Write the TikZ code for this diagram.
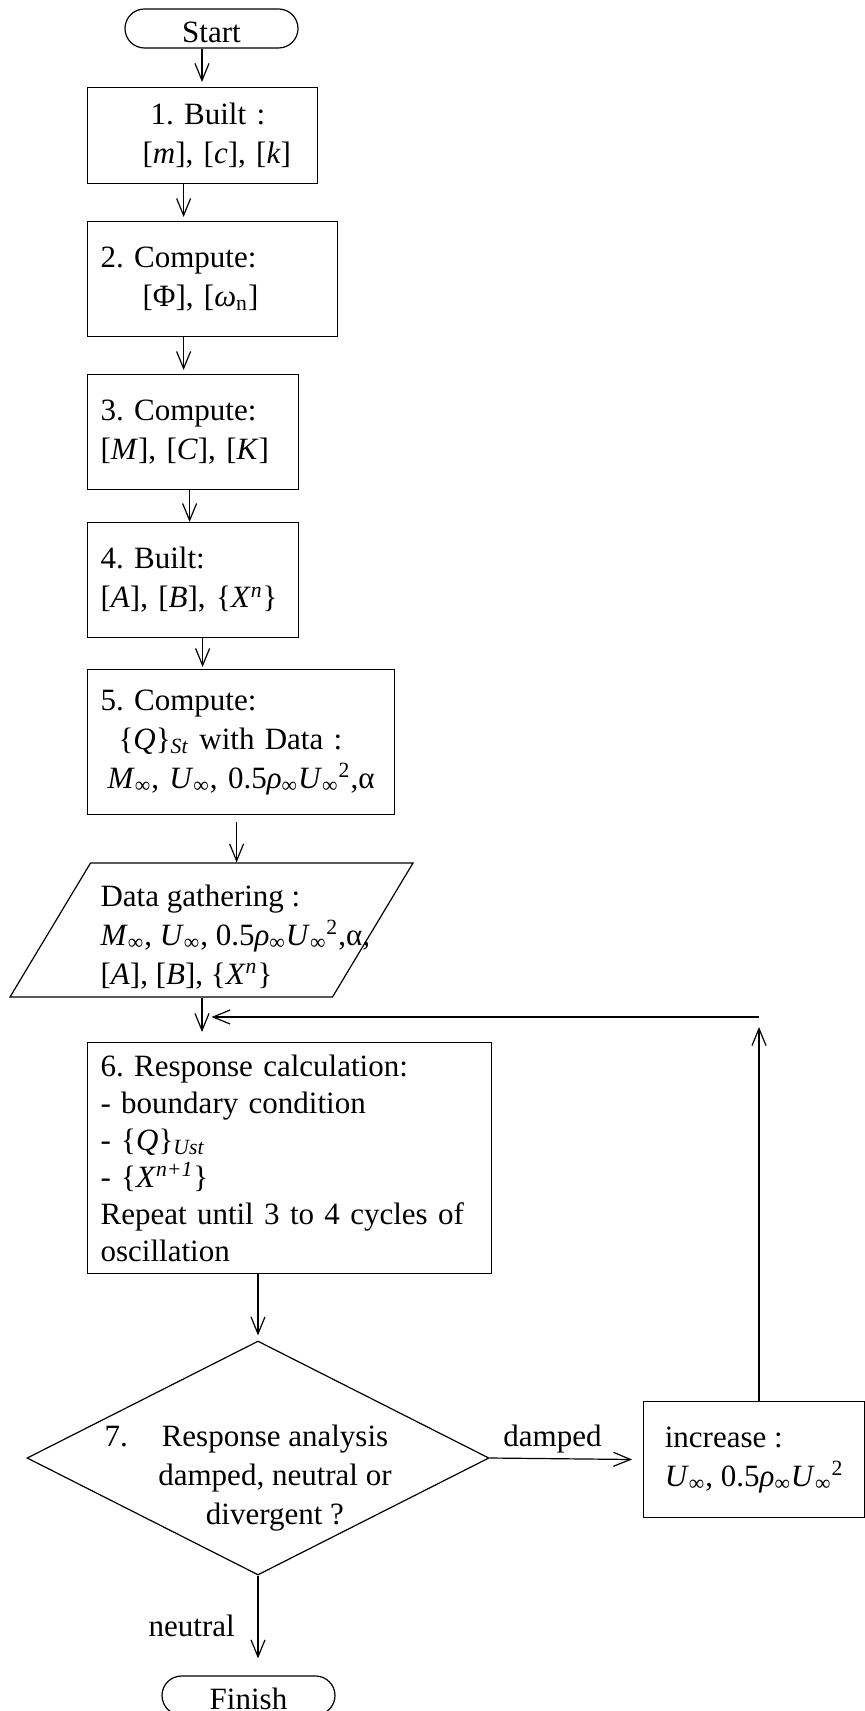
\documentclass[tikz,border=0pt]{standalone}
\usepackage{fontspec}
\setmainfont{Liberation Serif}
\usetikzlibrary{arrows.meta,shapes.geometric,shapes.misc}
\newcommand{\sinf}{\textsubscript{∞}}
\newcommand{\Uinf}{\textit{U}\sinf}
\frenchspacing

\begin{document}
\begin{tikzpicture}[->,>={Straight Barb[length=8.5pt,width=7pt]},x=0.5pt,y=-0.5pt,line width=0.6pt,
                    font=\fontsize{15.5}{19.5}\selectfont]
                \tikzstyle{box}=[draw,rectangle,anchor=north west,align=left,inner xsep=6.5pt,inner ysep=0pt]
                \tikzstyle{term}=[draw,rounded rectangle,minimum width=86.5pt,minimum height=19.5pt,inner sep=0pt,text height=14pt,text depth=0pt]
                \useasboundingbox (0,0) rectangle (865,1711);

                \node[term]     (start)     at (211.5,28.5)  {Start};
                \node[box,text width=102pt,minimum height=48pt]      (b1) at (87,87)
                    {\hspace*{25pt}1. Built :\\\hspace*{21pt}[\textit{m}], [\textit{c}], [\textit{k}]};
                \node[box,text width=112pt,minimum height=57.5pt]    (b2) at (87,221)
                    {2. Compute:\\\hspace*{21pt}[Φ], [\textit{ω}\textsubscript{n}]};
                \node[box,text width=92.5pt,minimum height=57.5pt]   (b3) at (87,374)
                    {3. Compute:\\{}[\textit{M}], [\textit{C}], [\textit{K}]};
                \node[box,text width=92.5pt,minimum height=57.5pt]   (b4) at (87,522)
                    {4. Built:\\{}[\textit{A}], [\textit{B}], \{\textit{X}\textsuperscript{\textit{n}}\}};
                \node[box,text width=140.5pt,minimum height=72.5pt]  (b5) at (87,669)
                    {5. Compute:\\\hspace*{9pt}\mbox{\{\textit{Q}\}\textsubscript{\textit{St}} with Data :}\\\hspace*{3.5pt}\mbox{\textit{M}\sinf, \Uinf, 0.5\textit{ρ}\sinf\Uinf\textsuperscript{2},α}};
                \node[draw,trapezium,trapezium left angle=59,trapezium right angle=121,trapezium stretches body,
                      minimum width=201.5pt,text height=67pt,text depth=0pt,inner sep=0pt] (pg) at (211.5,930) {};
                \node[anchor=west,align=left,inner sep=0pt] (pgtext) at (100,937)
                    {Data gathering :\\\textit{M}\sinf, \Uinf, 0.5\textit{ρ}\sinf\Uinf\textsuperscript{2},α,\\{}[\textit{A}], [\textit{B}], \{\textit{X}\textsuperscript{\textit{n}}\}};
                \node[box,text width=189pt,minimum height=115.5pt,font=\fontsize{15.5}{18.5}\selectfont] (b6) at (87,1042)
                    {6. Response calculation:\\- boundary condition\\- \{\textit{Q}\}\textsubscript{\textit{Ust}}\\- \{\textit{X}\textsuperscript{\textit{n+1}}\}\\Repeat until 3 to 4 cycles of\\oscillation};
                \node[draw,diamond,aspect=2,minimum width=231pt,minimum height=117pt,inner sep=0pt] (d7) at (258,1458) {};
                \node[align=center,inner sep=0pt] (d7text) at (275,1478)
                    {\llap{7.\hspace{17pt}}Response analysis\\damped, neutral or\\divergent ?};
                \node[box,minimum width=110.5pt,minimum height=58pt] (inc) at (643,1401)
                    {increase :\\\Uinf, 0.5\textit{ρ}\sinf\Uinf\textsuperscript{2}};
                \node[term]     (finish)    at (248.5,1695.5) {Finish};
                \coordinate (ret) at (759,1017);

                \path
                ([xshift=-4.75pt]start.south) edge[shorten >=2.5pt]   ([xshift=-4.75pt]start.south |- b1.north)
                ([xshift=-9.5pt]b1.south)     edge[shorten >=2pt]     ([xshift=-9.5pt]b1.south |- b2.north)
                ([xshift=-14.5pt]b2.south)    edge[shorten >=2pt]     ([xshift=-14.5pt]b2.south |- b3.north)
                ([xshift=-1.75pt]b3.south)    edge                    ([xshift=-1.75pt]b3.south |- b4.north)
                ([xshift=4.75pt]b4.south)     edge[shorten >=1pt]     ([xshift=4.75pt]b4.south |- b5.north)
                ([xshift=-2.25pt]b5.south)    edge[shorten <=3.5pt]   ([xshift=-2.25pt]b5.south |- pg.north)
                ([xshift=-4.75pt]pg.south)    edge[shorten >=5pt]     ([xshift=-4.75pt]pg.south |- b6.north)
                (b6.south -| d7.north)        edge[shorten >=2.5pt]   (d7.north)
                (d7.south)                    edge[shorten >=8.5pt]   node[left=8pt,pos=0.5]{neutral}   (d7.south |- finish.north)
                (d7.east)                     edge[shorten >=5.5pt]   node[above=-1pt,pos=0.41]{damped} (inc.west)
                (inc.north -| ret)            edge[shorten >=5pt]     (ret)
                (ret)                         edge                    (ret -| pg.south);
            \end{tikzpicture}
\end{document}
